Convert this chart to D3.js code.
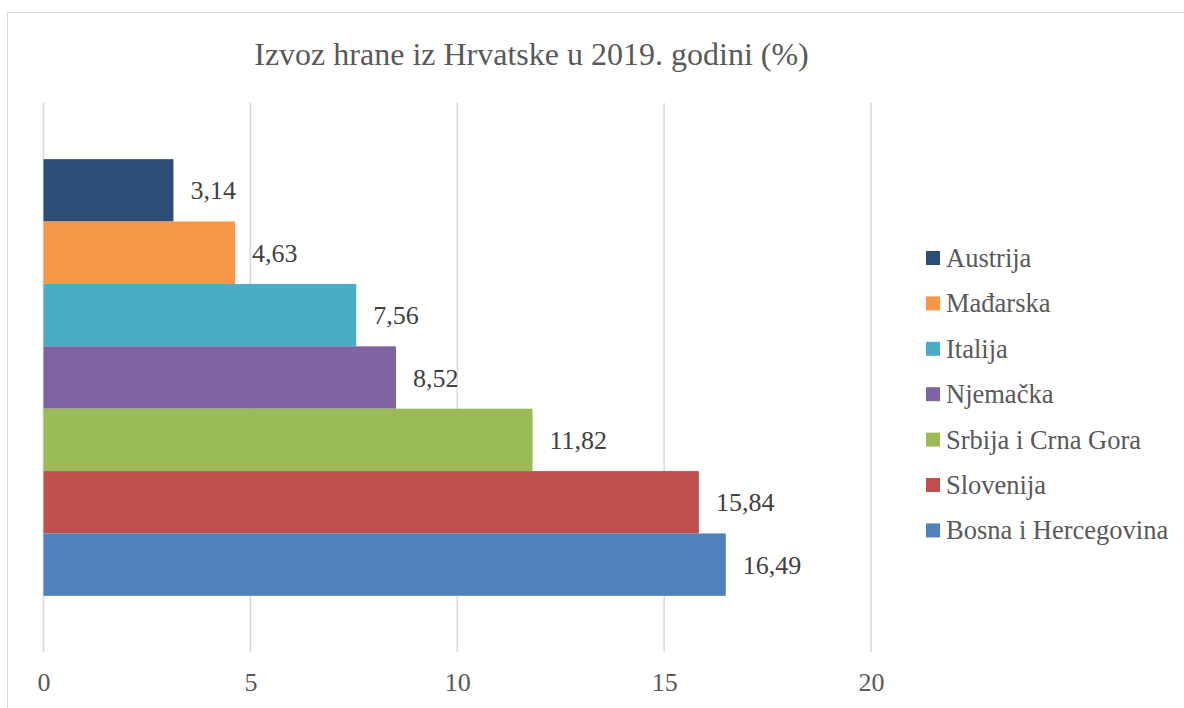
<!DOCTYPE html>
<html>
<head>
<meta charset="utf-8">
<script src="https://d3js.org/d3.v7.min.js"></script>
<style>
  body { margin: 0; background: #fff; }
  svg { display: block; }
</style>
</head>
<body>
<div id="chart"></div>
<script>
// data, top to bottom as drawn
var countries = ['Austrija', 'Mađarska', 'Italija', 'Njemačka', 'Srbija i Crna Gora', 'Slovenija', 'Bosna i Hercegovina']
var values = [3.14, 4.63, 7.56, 8.52, 11.82, 15.84, 16.49]
var colors = ['#2c4d75', '#f79646', '#4bacc6', '#8064a2', '#9bbb59', '#c0504d', '#4f81bd']
var ticks = [0, 5, 10, 15, 20]
var title = 'Izvoz hrane iz Hrvatske u 2019. godini (%)'

var width = 1184
var height = 708
var font = '"Liberation Serif", "Times New Roman", serif'

var svg = d3.select('#chart').append('svg')
    .attr('width', width)
    .attr('height', height)

// chart frame (cut by the window at right and bottom)
svg.append('rect')
    .attr('x', 7.5).attr('y', 12.5)
    .attr('width', width + 10).attr('height', height + 10)
    .attr('fill', '#fff')
    .attr('stroke', '#d9d9d9')

var x = d3.scaleLinear().domain([0, 20]).range([43.5, 871])
var y = d3.scaleBand().domain(countries).range([103, 652]).paddingInner(0).paddingOuter(0.9)

// gridlines
svg.append('g')
    .selectAll('line')
    .data(ticks)
    .join('line')
    .attr('x1', d => x(d)).attr('x2', d => x(d))
    .attr('y1', 103).attr('y2', 652)
    .attr('stroke', '#d9d9d9')
    .attr('stroke-width', 1.5)

// axis labels
var axis = d3.axisBottom(x).tickValues(ticks).tickSize(0).tickPadding(0)
var ax = svg.append('g').attr('transform', 'translate(0, 673)').call(axis)
ax.select('.domain').remove()
ax.selectAll('text')
    .attr('font-family', font)
    .attr('font-size', 26)
    .attr('fill', '#595959')

// bars
svg.append('g')
    .selectAll('rect')
    .data(countries)
    .join('rect')
    .attr('x', x(0))
    .attr('y', d => y(d))
    .attr('width', (d, i) => x(values[i]) - x(0))
    .attr('height', y.bandwidth())
    .attr('fill', (d, i) => colors[i])

// value labels
svg.append('g')
    .selectAll('text')
    .data(countries)
    .join('text')
    .attr('x', (d, i) => x(values[i]) + 17)
    .attr('y', d => y(d) + y.bandwidth() / 2 + 9)
    .attr('font-family', font)
    .attr('font-size', 26)
    .attr('fill', '#404040')
    .text((d, i) => values[i].toFixed(2).replace('.', ','))

// title
svg.append('text')
    .attr('x', 531.5)
    .attr('y', 65)
    .attr('text-anchor', 'middle')
    .attr('font-family', font)
    .attr('font-size', 32)
    .attr('fill', '#595959')
    .text(title)

// legend
var legend = svg.append('g')
    .selectAll('g')
    .data(countries)
    .join('g')
    .attr('transform', (d, i) => 'translate(926, ' + (258 + i * 45.4) + ')')
legend.append('rect')
    .attr('x', 0).attr('y', -7)
    .attr('width', 14).attr('height', 14)
    .attr('fill', (d, i) => colors[i])
legend.append('text')
    .attr('x', 20)
    .attr('y', 9)
    .attr('font-family', font)
    .attr('font-size', 26.5)
    .attr('fill', '#595959')
    .text(d => d)
</script>
</body>
</html>
